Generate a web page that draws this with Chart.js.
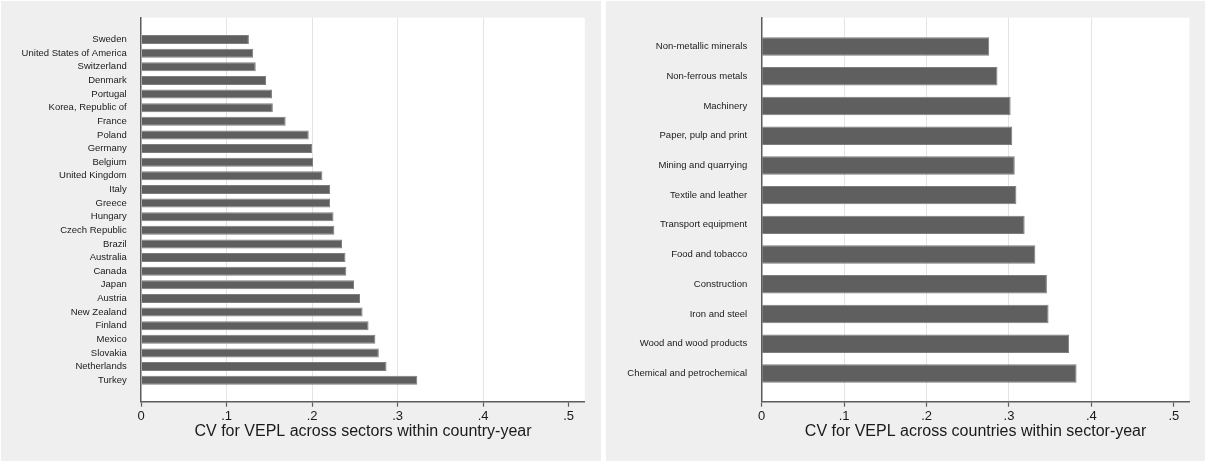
<!DOCTYPE html>
<html>
<head>
<meta charset="utf-8">
<title>CV for VEPL</title>
<script src="https://cdn.jsdelivr.net/npm/chart.js@4/dist/chart.umd.min.js"></script>
<style>
  html, body { margin: 0; padding: 0; background: #ffffff; }
  body { width: 1205px; height: 461px; position: relative; overflow: hidden; }
  .panel { position: absolute; top: 1px; height: 460px; background: #efefef; }
  #leftPanel { left: 1px; width: 600px; }
  #rightPanel { left: 606px; width: 599px; }
</style>
</head>
<body>
<div class="panel" id="leftPanel"><canvas id="countryChart"></canvas></div>
<div class="panel" id="rightPanel"><canvas id="sectorChart"></canvas></div>
<script>
// Coefficient of variation of VEPL across sectors, by country (sorted ascending)
const countries = [
  'Sweden', 'United States of America', 'Switzerland', 'Denmark', 'Portugal',
  'Korea, Republic of', 'France', 'Poland', 'Germany', 'Belgium',
  'United Kingdom', 'Italy', 'Greece', 'Hungary', 'Czech Republic',
  'Brazil', 'Australia', 'Canada', 'Japan', 'Austria',
  'New Zealand', 'Finland', 'Mexico', 'Slovakia', 'Netherlands', 'Turkey'
];
const countryCV = [
  0.126, 0.131, 0.134, 0.146, 0.153,
  0.154, 0.169, 0.196, 0.200, 0.201,
  0.212, 0.221, 0.221, 0.225, 0.226,
  0.235, 0.239, 0.240, 0.249, 0.256,
  0.259, 0.266, 0.274, 0.278, 0.287, 0.323
];

// Coefficient of variation of VEPL across countries, by sector (sorted ascending)
const sectors = [
  'Non-metallic minerals', 'Non-ferrous metals', 'Machinery', 'Paper, pulp and print',
  'Mining and quarrying', 'Textile and leather', 'Transport equipment', 'Food and tobacco',
  'Construction', 'Iron and steel', 'Wood and wood products', 'Chemical and petrochemical'
];
const sectorCV = [
  0.276, 0.286, 0.302, 0.304,
  0.307, 0.309, 0.319, 0.332,
  0.346, 0.348, 0.373, 0.382
];

// Value axis ticks
const xTickValues = [0, 0.1, 0.2, 0.3, 0.4, 0.5];
const xTickLabels = ['0', '.1', '.2', '.3', '.4', '.5'];

const FONT = '"Liberation Sans", Arial, Helvetica, sans-serif';
const TEXT = '#1a1a1a';
const AXIS = '#5c5c5c';
const GRID = '#e4e4e4';
const BAR = '#5f5f5f';

// White plot region behind the bars and grid lines
const plotBackground = {
  id: 'plotBackground',
  beforeDraw(chart) {
    const { ctx, chartArea: a } = chart;
    ctx.save();
    ctx.fillStyle = '#ffffff';
    ctx.fillRect(a.left, a.top, a.right - a.left, a.bottom - a.top);
    ctx.restore();
  }
};

function buildChart(canvasId, cfg) {
  const n = cfg.labels.length;
  return new Chart(document.getElementById(canvasId), {
    type: 'bar',
    plugins: [plotBackground],
    data: {
      datasets: [{
        data: cfg.values.map((v, i) => ({ x: v, y: i })),
        backgroundColor: BAR,
        borderColor: '#7d7d7d',
        borderWidth: 1,
        categoryPercentage: 1,
        barPercentage: cfg.barPct
      }]
    },
    options: {
      indexAxis: 'y',
      responsive: true,
      maintainAspectRatio: false,
      animation: false,
      devicePixelRatio: 1,
      layout: { padding: { top: 16.7, right: cfg.padRight, bottom: 0, left: 0 } },
      plugins: { legend: { display: false }, tooltip: { enabled: false } },
      scales: {
        x: {
          type: 'linear',
          position: 'bottom',
          min: 0,
          max: 0.519,
          afterBuildTicks: s => { s.ticks = xTickValues.map(v => ({ value: v })); },
          afterFit: s => { s.height = 59.3; },
          ticks: {
            autoSkip: false,
            maxRotation: 0,
            padding: 2,
            color: TEXT,
            font: { family: FONT, size: 13 },
            callback: (v, i) => xTickLabels[i]
          },
          grid: {
            drawOnChartArea: true,
            color: c => (c.tick && c.tick.value > 0 && c.tick.value < 0.5) ? GRID : 'rgba(0,0,0,0)',
            lineWidth: 1,
            tickColor: AXIS,
            tickLength: 5,
            tickWidth: 1.2
          },
          border: { display: true, color: AXIS, width: 1.5 },
          title: {
            display: true,
            text: cfg.title,
            color: TEXT,
            font: { family: FONT, size: 16 },
            padding: { top: 0, bottom: 19.4 }
          }
        },
        y: {
          type: 'linear',
          reverse: true,
          offset: false,
          min: -cfg.edgeTop,
          max: n - 1 + cfg.edgeBottom,
          afterBuildTicks: s => { s.ticks = cfg.labels.map((_, i) => ({ value: i })); },
          afterFit: s => { s.width = cfg.axisX; },
          ticks: {
            autoSkip: false,
            padding: 6.5,
            color: TEXT,
            font: { family: FONT, size: 9.5 },
            callback: v => cfg.labels[v]
          },
          grid: { display: false, offset: false },
          border: { display: true, color: AXIS, width: 1.5 }
        }
      }
    }
  });
}

buildChart('countryChart', {
  labels: countries,
  values: countryCV,
  title: 'CV for VEPL across sectors within country-year',
  axisX: 140.2,
  padRight: 16.2,
  edgeTop: 1.6,
  edgeBottom: 1.58,
  barPct: 0.66
});

buildChart('sectorChart', {
  labels: sectors,
  values: sectorCV,
  title: 'CV for VEPL across countries within sector-year',
  axisX: 155.7,
  padRight: 15.5,
  edgeTop: 0.97,
  edgeBottom: 0.95,
  barPct: 0.62
});
</script>
</body>
</html>
